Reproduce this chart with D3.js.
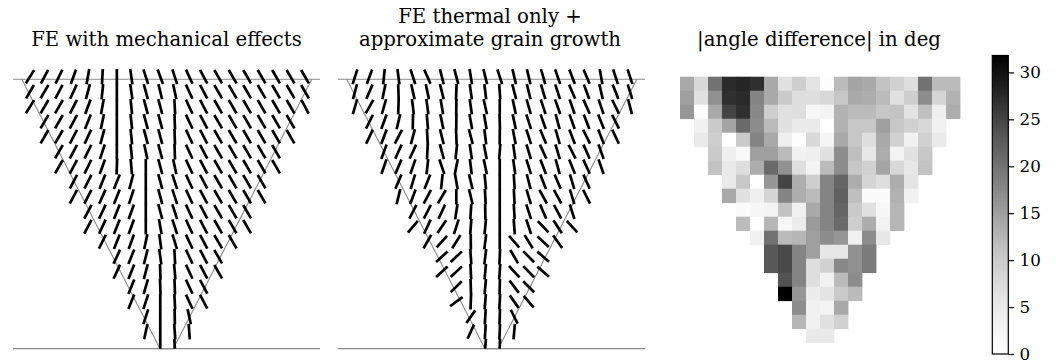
<!DOCTYPE html>
<html>
<head>
<meta charset="utf-8">
<script src="https://cdn.jsdelivr.net/npm/d3@7"></script>
<style>
  html, body { margin: 0; padding: 0; background: #fff; }
  text { font-family: "DejaVu Serif", serif; fill: #000; }
</style>
</head>
<body>
<svg id="chart" width="1056" height="363"></svg>
<script>
// Grain orientation field on a 20 x 19 grid inside the weld cross-section.
// rowStart[r] = first grid column present in row r; each row array runs on from there.
const rowStart = [0, 0, 0, 1, 1, 2, 2, 3, 3, 4, 4, 5, 6, 6, 7, 7, 8, 8, 9];

// Grain direction, degrees from vertical (+ = top tilted to the right)
const mechAngle = [
  [32, 28, 26, 20, 10, 3, 0, -8, -18, -20, -18, -25, -28, -30, -30, -30, -30, -30, -30, -30],
  [30, 30, 28, 25, 15, 6, 0, -8, -15, -14, -12, -25, -28, -30, -30, -30, -30, -30, -30, -30],
  [32, 30, 30, 27, 20, 10, 0, -6, -15, -15, -3, -25, -28, -30, -30, -30, -30, -30, -30, -28],
  [30, 30, 28, 22, 12, 0, -6, -15, -15, -2, -25, -28, -30, -30, -30, -30, -30, -30],
  [30, 30, 28, 25, 15, 0, -6, -15, -15, -2, -25, -28, -30, -30, -30, -30, -30, -30],
  [30, 28, 26, 18, 0, -6, -12, -15, -2, -25, -28, -30, -30, -30, -30, -30],
  [30, 28, 26, 20, 2, -5, 0, -15, -12, -25, -28, -30, -30, -30, -30, -30],
  [28, 27, 22, 22, 15, 0, -15, -18, -25, -28, -30, -30, -30, -30],
  [28, 27, 24, 22, 18, 0, -15, -18, -25, -28, -30, -30, -30, -30],
  [28, 25, 22, 20, 0, -15, -18, -25, -28, -30, -30, -30],
  [28, 25, 22, 20, 0, -10, -18, -25, -28, -30, -30, -30],
  [26, 22, 20, 12, -8, -17, -25, -28, -30, -30],
  [25, 22, 14, -8, -3, -25, -28, -30],
  [25, 22, 15, -2, -5, -25, -28, -30],
  [22, 16, -2, -2, -25, -28],
  [22, 18, 0, -3, -25, -28],
  [18, 0, -1, -12],
  [12, 0, -4, -4],
  [0, -3]
];

const thermAngle = [
  [18, 20, 6, -7.5, -18, -24, -14, -14.5, -9, -14, -17.5, -13, -13.5, -16, -19, -21, -23, -10, -18, -18],
  [15, 23.5, 11.5, -2, -12.5, -12, -14, 2, -8, -7, -4, -14.5, -14, -16.5, -18, -23.5, -20.5, -13, -21.5, -17],
  [16, 29.5, 16, 2, -7, -7.5, -9.5, 0.5, -8, -13, 0, -12, -16, -18, -19.5, -19, -24, -18.5, -26, -14.5],
  [26.5, 20, 13.5, 1, -5, -12, 0.5, -10, -10, -1.7, -12, -17.5, -19.5, -15, -19.5, -21, -22, -26.5],
  [25, 20.5, 28, 15, -3, -14, -2, -14.5, -7, 0.5, -11, -17.5, -23, -16, -21, -26.5, -21, -25],
  [20, 24, 24.5, 3, -15, 6, -8.5, -11, 4.5, -8, -16.5, -24.5, -16.5, -27, -23.5, -19.5],
  [19, 23, 19, 6.5, -19, 11.5, -7, -12, 0, -8, -17.5, -21, -15.5, -22, -24.5, -19],
  [23, 16.5, 22, 6, -10, -13.5, -5.5, 0, -3.5, -14.5, -21.5, -23, -16.5, -24],
  [14, 20.5, 28, 30.5, 0, -13.5, -3, 0, -3, -16.5, -29, -29, -17, -26.5],
  [27, 27, 25, 9, 3.5, -1, 0, -3.5, -18, -23.5, -28, -17.5],
  [40, 25, 34.5, 18, 4.5, 5.5, 0, -4, -18.5, -43.5, -33, -42.5],
  [29.5, 42, 32, -0.5, 7, 0, -41, -31.5, -47, -35.5],
  [48, 46.5, -4, 7, 2.5, -30.5, -44.5, -49],
  [48, 46.5, -3, 5, 4, -42.5, -44.5, -49],
  [45.5, -2, 5, 1.5, -37, -45],
  [53.8, 2, 4.5, 3, -35, -40],
  [35, 3.5, 2, -26],
  [24.5, 3.5, 2.5, 5],
  [5, 2]
];

// |angle difference| per cell, degrees
const angleDiff = [
  [14, 8, 20, 27.5, 28, 27, 14, 6.5, 9.5, 6, 0.5, 12, 14.5, 14, 11, 9, 7, 20, 12, 12],
  [15, 6.5, 16.5, 27, 27.5, 18, 14, 10, 7, 7, 8, 10.5, 14, 13.5, 12, 6.5, 9.5, 17, 8.5, 13],
  [16, 0.5, 14, 25, 27, 17.5, 9.5, 6.5, 7, 2, 3, 13, 12, 12, 10.5, 11, 6, 11.5, 4, 13.5],
  [3.5, 10, 14.5, 21, 17, 12, 6.5, 5, 5, 0.3, 13, 10.5, 10.5, 15, 10.5, 9, 8, 3.5],
  [5, 9.5, 0, 10, 18, 14, 4, 0.5, 8, 2.5, 14, 10.5, 7, 14, 9, 3.5, 9, 5],
  [10, 4, 1.5, 15, 15, 12, 3.5, 4, 6.5, 17, 11.5, 5.5, 13.5, 3, 6.5, 10.5],
  [11, 5, 7, 13.5, 21, 16.5, 7, 3, 12, 17, 10.5, 9, 14.5, 8, 5.5, 11],
  [5, 10.5, 0, 16, 25, 13.5, 9.5, 18, 21.5, 13.5, 8.5, 7, 13.5, 6],
  [14, 6.5, 4, 8.5, 18, 13.5, 12, 18, 22, 11.5, 1, 1, 13, 3.5],
  [1, 2, 3, 11, 3.5, 14, 18, 21.5, 10, 6.5, 2, 12.5],
  [12, 0, 12.5, 2, 4.5, 15.5, 18, 21, 9.5, 13.5, 3, 12.5],
  [3.5, 20, 12, 12.5, 15, 17, 16, 3.5, 17, 5.5],
  [23, 24.5, 18, 15, 5.5, 5.5, 16.5, 19],
  [23, 24.5, 18, 7, 9, 17.5, 16.5, 19],
  [23.5, 18, 7, 3.5, 12, 17],
  [31.8, 16, 4.5, 6, 10, 12],
  [17, 3.5, 3, 14],
  [12.5, 3.5, 6.5, 9],
  [5, 5]
];

// Weld outline in grid units: fusion line and the top / bottom plate surfaces
const fusionX = [-0.57, 8.98, 9.9, 19.47];
const fusionY = [0.17, 18.13, 18.13, 0.17];
const surfaceX = [-1.17, 20.04];
const surfaceY = [0.17, 18.13];

const panelTitles = [
  ["FE with mechanical effects"],
  ["FE thermal only +", "approximate grain growth"],
  ["|angle difference| in deg"]
];
const cbTicks = [0, 5, 10, 15, 20, 25, 30];
const diffMax = 31.8;

const svg = d3.select("#chart");
const nCols = 20, nRows = 19;

// flatten a ragged row table into cells
function cells(table) {
  const out = [];
  table.forEach((row, r) => row.forEach((v, i) => out.push({ r, c: rowStart[r] + i, v })));
  return out;
}

const gx = d3.scaleLinear().domain([0, nCols - 1]).range([30, 305]);
const gy = d3.scaleLinear().domain([0, nRows - 1]).range([76.7, 346.7]);
const segLen = 15.5;

svg.append("defs").append("clipPath").attr("id", "plateClip")
  .append("rect").attr("x", 0).attr("y", 0).attr("width", 1056).attr("height", gy(surfaceY[1]));

function quiverPanel(dx, table) {
  const g = svg.append("g").attr("transform", `translate(${dx},0)`);
  const line = d3.line().x(d => gx(d[0])).y(d => gy(d[1]));
  g.append("path")
    .attr("d", line(fusionX.map((x, i) => [x, fusionY[i]])))
    .attr("fill", "none").attr("stroke", "#8a8a8a").attr("stroke-width", 1.1);
  surfaceY.forEach(yv => {
    g.append("path")
      .attr("d", line([[surfaceX[0], yv], [surfaceX[1], yv]]))
      .attr("fill", "none").attr("stroke", "#8a8a8a").attr("stroke-width", 1.1);
  });
  g.append("g").attr("clip-path", "url(#plateClip)")
    .selectAll("line").data(cells(table)).join("line")
    .each(function (d) {
      const t = d.v * Math.PI / 180;
      const hx = Math.sin(t) * segLen / 2, hy = Math.cos(t) * segLen / 2;
      const cx = gx(d.c), cy = gy(d.r);
      d3.select(this)
        .attr("x1", cx - hx).attr("y1", cy + hy)
        .attr("x2", cx + hx).attr("y2", cy - hy);
    })
    .attr("stroke", "#000").attr("stroke-width", 2.7).attr("stroke-linecap", "butt");
}

quiverPanel(0, mechAngle);
quiverPanel(325, thermAngle);

// difference map
const hx = d3.scaleLinear().domain([0, nCols]).range([680, 960]);
const hy = d3.scaleLinear().domain([0, nRows]).range([76.7, 342.7]);
const color = d3.scaleSequential(d3.interpolateGreys).domain([0, diffMax]);

svg.append("g").selectAll("rect").data(cells(angleDiff)).join("rect")
  .attr("x", d => hx(d.c)).attr("y", d => hy(d.r))
  .attr("width", hx(1) - hx(0) + 0.4).attr("height", hy(1) - hy(0) + 0.4)
  .attr("fill", d => color(d.v));

// colour bar
const cbX = 992.3, cbW = 16;
const cy = d3.scaleLinear().domain([0, diffMax]).range([354, 55.5]);
const grad = svg.select("defs").append("linearGradient")
  .attr("id", "cbGrad").attr("x1", 0).attr("y1", 1).attr("x2", 0).attr("y2", 0);
d3.range(0, 1.0001, 0.05).forEach(t => {
  grad.append("stop").attr("offset", t).attr("stop-color", color(t * diffMax));
});
svg.append("rect").attr("x", cbX).attr("y", cy(diffMax)).attr("width", cbW)
  .attr("height", cy(0) - cy(diffMax)).attr("fill", "url(#cbGrad)")
  .attr("stroke", "#000").attr("stroke-width", 1.2);
const cbAxis = svg.append("g").attr("transform", `translate(${cbX + cbW},0)`)
  .call(d3.axisRight(cy).tickValues(cbTicks).tickSize(5.8).tickPadding(5.5));
cbAxis.select(".domain").remove();
cbAxis.selectAll("line").attr("stroke", "#000").attr("stroke-width", 1.2);
cbAxis.selectAll("text").style("font-family", "'DejaVu Serif', serif").style("font-size", "16.7px");

// titles
const titleX = [166.5, 490, 819];
panelTitles.forEach((lines, i) => {
  lines.forEach((s, j) => {
    svg.append("text")
      .attr("x", titleX[i]).attr("y", 46 - (lines.length - 1 - j) * 23)
      .attr("text-anchor", "middle").style("font-size", "19.7px").text(s);
  });
});
</script>
</body>
</html>
